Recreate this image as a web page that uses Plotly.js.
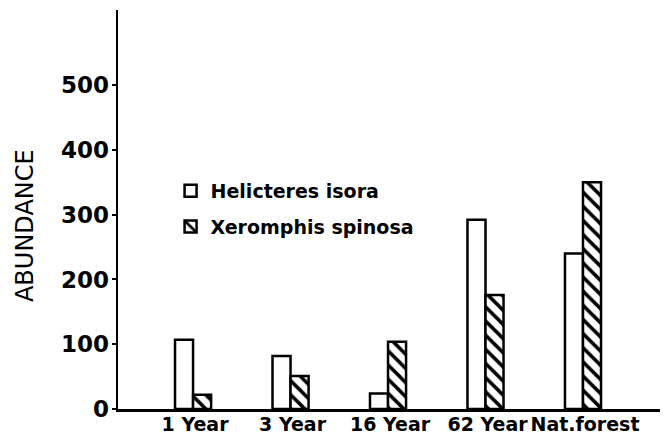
<!DOCTYPE html>
<html>
<head>
<meta charset="utf-8">
<script src="https://cdn.plot.ly/plotly-3.0.1.min.js"></script>
<style>html,body{margin:0;padding:0;background:#fff;}#chart{width:665px;height:440px;}</style>
</head>
<body>
<div id="chart"></div>
<script>
const categories = ['1 Year', '3 Year', '16 Year', '62 Year', 'Nat.forest'];
const helicteres = [107, 82, 24, 292, 240];
const xeromphis = [22, 51, 104, 176, 350];
const yTicks = [0, 100, 200, 300, 400, 500];

const traces = [
  {
    type: 'bar', name: 'Helicteres isora', x: categories, y: helicteres,
    legendgroup: 'a',
    marker: {color: '#ffffff', line: {color: '#000', width: 2.5}}
  },
  {
    type: 'bar', name: 'Xeromphis spinosa', x: categories, y: xeromphis,
    legendgroup: 'b',
    marker: {color: '#ffffff', line: {color: '#000', width: 2.5},
      pattern: {shape: '\\', fgcolor: '#000', bgcolor: '#fff', size: 10, solidity: 0.35}}
  }
];

const layout = {
  width: 665, height: 440,
  margin: {l: 118, r: 5, t: 10, b: 31},
  paper_bgcolor: '#fff', plot_bgcolor: '#fff',
  barmode: 'group', bargap: 0.63, bargroupgap: 0,
  font: {family: 'DejaVu Sans', color: '#000'},
  xaxis: {
    type: 'category', range: [-0.77, 4.79],
    showline: true, linecolor: '#000', linewidth: 2.5,
    ticks: '', showgrid: false, zeroline: false,
    tickangle: 0, ticklabelstandoff: -3, ticklabelshift: 2,
    tickfont: {family: 'DejaVu Sans', size: 19, weight: 'bold', color: '#000'}
  },
  yaxis: {
    range: [0, 616], tickvals: yTicks, ticktext: yTicks.map(String),
    showline: true, linecolor: '#000', linewidth: 2.5,
    ticks: 'outside', ticklen: 4, tickwidth: 2, tickcolor: '#000',
    ticklabelstandoff: -2,
    showgrid: false, zeroline: false,
    tickfont: {family: 'DejaVu Sans', size: 23, weight: 'bold', color: '#000'}
  },
  showlegend: true,
  legend: {
    x: 0.097, y: 0.594, xanchor: 'left', yanchor: 'top',
    bgcolor: 'rgba(0,0,0,0)', borderwidth: 0,
    tracegroupgap: 8, itemwidth: 30,
    font: {family: 'DejaVu Sans', size: 19, weight: 'bold', color: '#000'}
  },
  annotations: [{
    text: 'ABUNDANCE', xref: 'paper', yref: 'paper',
    x: -0.1716, y: 0.461, textangle: -90, showarrow: false,
    xanchor: 'center', yanchor: 'middle',
    font: {family: 'DejaVu Sans', size: 24, color: '#000'}
  }]
};

Plotly.newPlot('chart', traces, layout, {displayModeBar: false, staticPlot: true});
</script>
</body>
</html>
